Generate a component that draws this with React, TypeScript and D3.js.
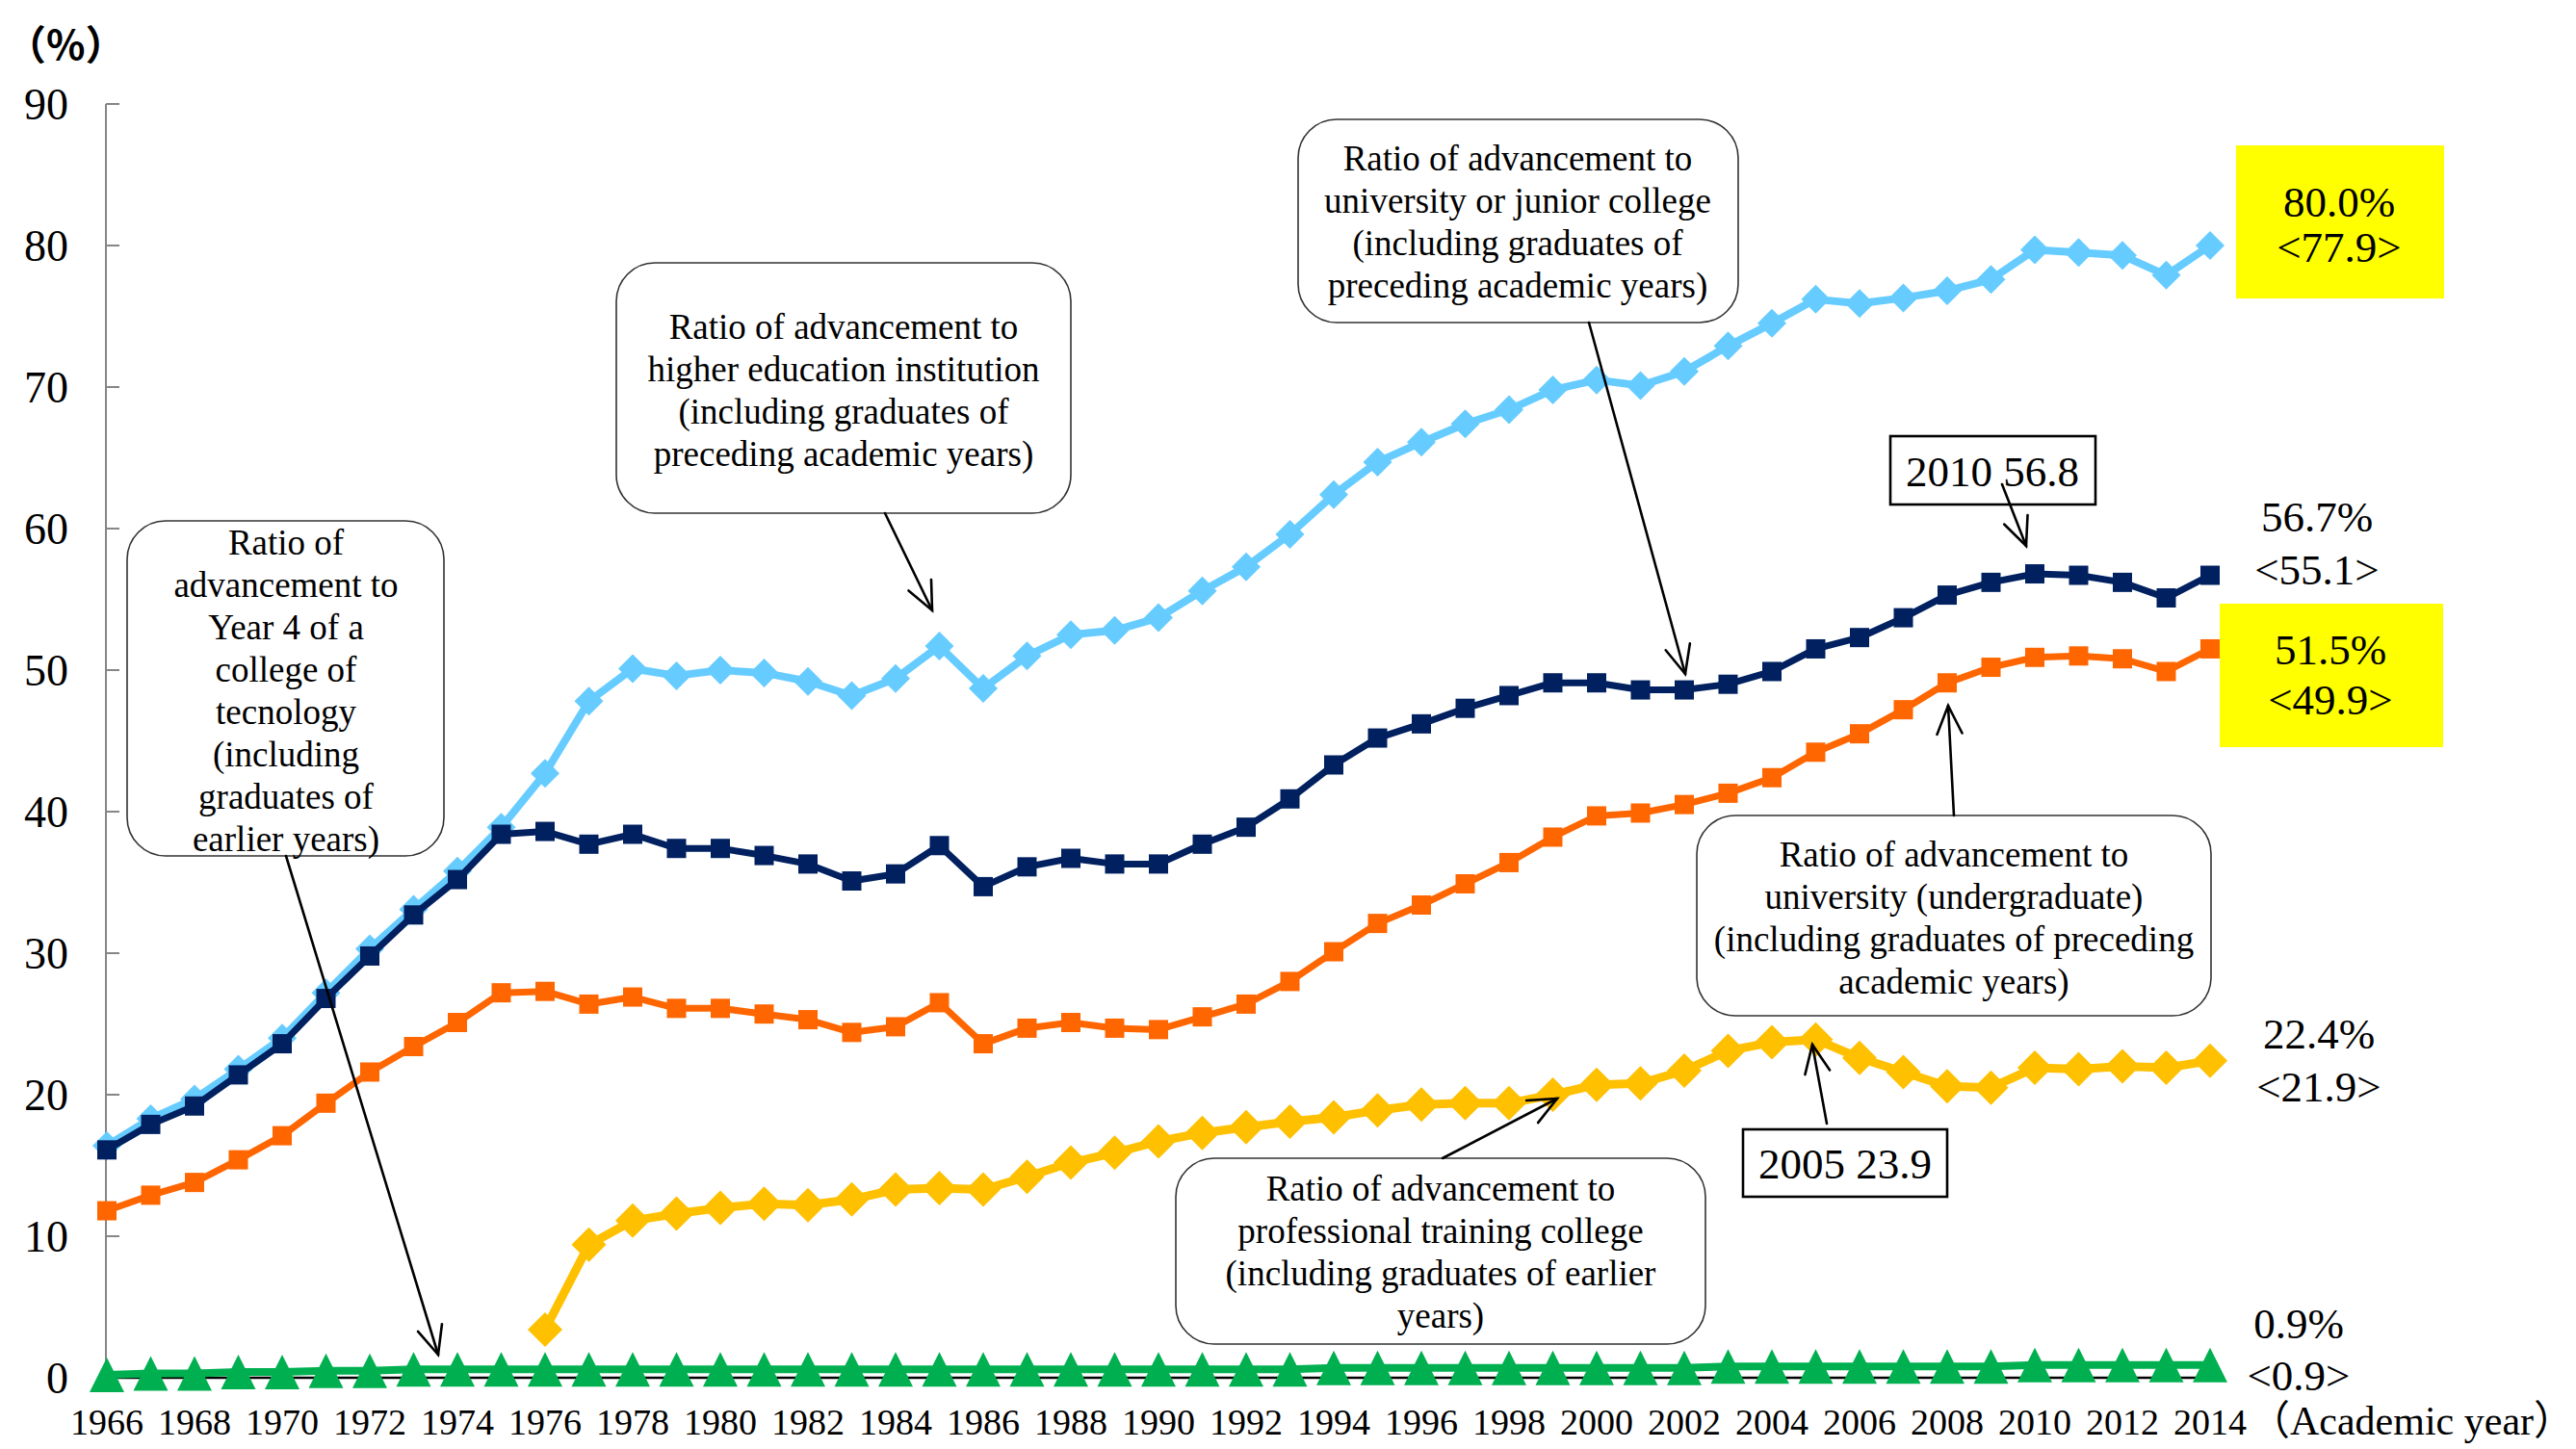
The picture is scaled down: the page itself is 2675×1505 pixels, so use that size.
import React from "react";
import * as d3 from "d3";

const years: number[] = d3.range(1966, 2015);
const yTicks = [0, 10, 20, 30, 40, 50, 60, 70, 80, 90];

// Higher education institution (light blue)
const higherEd = [
  16.4, 18.3, 19.7, 21.8, 24.0, 27.2, 30.3, 33.1, 35.8, 38.9,
  42.7, 47.8, 50.1, 49.6, 50.0, 49.8, 49.2, 48.2, 49.4, 51.7,
  48.7, 51.0, 52.5, 52.8, 53.7, 55.6, 57.3, 59.6, 62.4, 64.7,
  66.1, 67.4, 68.4, 69.8, 70.5, 70.1, 71.1, 72.9, 74.5, 76.2,
  75.9, 76.3, 76.8, 77.6, 79.7, 79.5, 79.3, 77.9, 80.0,
];
// University or junior college (navy)
const univJc = [
  16.1, 17.9, 19.2, 21.4, 23.6, 26.8, 29.8, 32.7, 35.2, 38.4,
  38.6, 37.7, 38.4, 37.4, 37.4, 36.9, 36.3, 35.1, 35.6, 37.6,
  34.7, 36.1, 36.7, 36.3, 36.3, 37.7, 38.9, 40.9, 43.3, 45.2,
  46.2, 47.3, 48.2, 49.1, 49.1, 48.6, 48.6, 49.0, 49.9, 51.5,
  52.3, 53.7, 55.3, 56.2, 56.8, 56.7, 56.2, 55.1, 56.7,
];
// University (undergraduate) (orange)
const univ = [
  11.8, 12.9, 13.8, 15.4, 17.1, 19.4, 21.6, 23.4, 25.1, 27.2,
  27.3, 26.4, 26.9, 26.1, 26.1, 25.7, 25.3, 24.4, 24.8, 26.5,
  23.6, 24.7, 25.1, 24.7, 24.6, 25.5, 26.4, 28.0, 30.1, 32.1,
  33.4, 34.9, 36.4, 38.2, 39.7, 39.9, 40.5, 41.3, 42.4, 44.2,
  45.5, 47.2, 49.1, 50.2, 50.9, 51.0, 50.8, 49.9, 51.5,
];
// Professional training college (gold), from 1976
const senshuYears: number[] = d3.range(1976, 2015);
const senshu = [
  3.4, 9.4, 11.1, 11.6, 12.0, 12.3, 12.2, 12.6, 13.3, 13.4,
  13.3, 14.2, 15.2, 15.9, 16.7, 17.3, 17.7, 18.1, 18.4, 18.9,
  19.3, 19.4, 19.4, 20.0, 20.7, 20.8, 21.7, 23.1, 23.7, 23.9,
  22.6, 21.6, 20.6, 20.5, 21.9, 21.8, 22.0, 21.9, 22.4,
];
// Year 4 of a college of technology (green)
const kosen = [
  0.2, 0.3, 0.3, 0.4, 0.4, 0.5, 0.5, 0.6, 0.6, 0.6,
  0.6, 0.6, 0.6, 0.6, 0.6, 0.6, 0.6, 0.6, 0.6, 0.6,
  0.6, 0.6, 0.6, 0.6, 0.6, 0.6, 0.6, 0.6, 0.7, 0.7,
  0.7, 0.7, 0.7, 0.7, 0.7, 0.7, 0.7, 0.8, 0.8, 0.8,
  0.8, 0.8, 0.8, 0.8, 0.9, 0.9, 0.9, 0.9, 0.9,
];

const W = 2675;
const H = 1505;
const serif = "'Liberation Serif', 'Times New Roman', 'Noto Sans CJK JP', serif";

const x = d3.scalePoint<number>().domain(years).range([111, 2295]);
const y = d3.scaleLinear().domain([0, 90]).range([1431, 108]);

type Marker = "square" | "diamond" | "triangle";

function markerPath(kind: Marker, s: number): string {
  const h = s / 2;
  if (kind === "square") return `M${-h},${-h}H${h}V${h}H${-h}Z`;
  if (kind === "diamond") return `M0,${-h}L${h},0L0,${h}L${-h},0Z`;
  return `M0,${-h}L${h},${h}L${-h},${h}Z`;
}

function Series({ xs, vals, color, width, marker, msize }: {
  xs: number[]; vals: number[]; color: string; width: number; marker: Marker; msize: number;
}) {
  const pts: [number, number][] = xs.map((yr, i) => [x(yr) as number, y(vals[i])]);
  const line = d3.line<[number, number]>()(pts) || "";
  const mp = markerPath(marker, msize);
  return (
    <g>
      <path d={line} fill="none" stroke={color} strokeWidth={width} strokeLinejoin="round" />
      {pts.map((p, i) => (
        <path key={i} d={mp} transform={`translate(${p[0]},${p[1]})`} fill={color} />
      ))}
    </g>
  );
}

function Arrow({ x1, y1, x2, y2 }: { x1: number; y1: number; x2: number; y2: number }) {
  const ang = Math.atan2(y2 - y1, x2 - x1);
  const len = 32;
  const spread = 0.42;
  const a1 = ang + Math.PI - spread;
  const a2 = ang + Math.PI + spread;
  const p1 = [x2 + len * Math.cos(a1), y2 + len * Math.sin(a1)];
  const p2 = [x2 + len * Math.cos(a2), y2 + len * Math.sin(a2)];
  return (
    <g stroke="#000" strokeWidth={2.6} fill="none" strokeLinecap="round">
      <line x1={x1} y1={y1} x2={x2} y2={y2} />
      <path d={`M${p1[0]},${p1[1]}L${x2},${y2}L${p2[0]},${p2[1]}`} strokeLinejoin="miter" />
    </g>
  );
}

function Callout({ x0, y0, x1, y1, cx, lines, baseline0, step = 44, fs = 37 }: {
  x0: number; y0: number; x1: number; y1: number; cx: number; lines: string[]; baseline0: number; step?: number; fs?: number;
}) {
  return (
    <g>
      <rect x={x0} y={y0} width={x1 - x0} height={y1 - y0} rx={40} ry={40}
        fill="#fff" stroke="#333" strokeWidth={1.6} />
      {lines.map((t, i) => (
        <text key={i} x={cx} y={baseline0 + i * step} textAnchor="middle"
          fontFamily={serif} fontSize={fs} fill="#000">{t}</text>
      ))}
    </g>
  );
}

function RightLabel({ cx, b1, b2, t1, t2 }: { cx: number; b1: number; b2: number; t1: string; t2: string }) {
  return (
    <g fontFamily={serif} fontSize={45} fill="#000" textAnchor="middle">
      <text x={cx} y={b1}>{t1}</text>
      <text x={cx} y={b2}>{t2}</text>
    </g>
  );
}

export default function App() {
  return (
    <svg width={W} height={H} viewBox={`0 0 ${W} ${H}`}
      style={{ position: "absolute", left: 0, top: 0, background: "#fff" }}>
      <rect x={0} y={0} width={W} height={H} fill="#fff" />

      {/* y axis */}
      <line x1={110} y1={y(90)} x2={110} y2={y(0)} stroke="#868686" strokeWidth={2} />
      {yTicks.map((t) => (
        <g key={t}>
          <line x1={110} x2={124} y1={y(t)} y2={y(t)} stroke="#868686" strokeWidth={2} />
          <text x={71} y={y(t) + 16} textAnchor="end" fontFamily={serif} fontSize={46} fill="#000">{t}</text>
        </g>
      ))}
      <text x={6} y={62} fontFamily="'Noto Sans CJK JP', sans-serif" fontSize={42} fontWeight="bold" fill="#000">（%）</text>

      {/* x axis */}
      <line x1={110} x2={2300} y1={y(0)} y2={y(0)} stroke="#000" strokeWidth={2.5} />
      {years.filter((yr) => (yr - 1966) % 2 === 0).map((yr) => (
        <text key={yr} x={x(yr) as number} y={1490} textAnchor="middle" fontFamily={serif} fontSize={38} fill="#000">{yr}</text>
      ))}
      <text x={2336} y={1490} fontFamily={serif} fontSize={42} fill="#000">（Academic year）</text>

      {/* series */}
      <Series xs={years} vals={univ} color="#FF6600" width={7} marker="square" msize={20} />
      <Series xs={senshuYears} vals={senshu} color="#FFC000" width={9} marker="diamond" msize={36} />
      <Series xs={years} vals={kosen} color="#00B050" width={8} marker="triangle" msize={36} />
      <Series xs={years} vals={higherEd} color="#66CCFF" width={8} marker="diamond" msize={30} />
      <Series xs={years} vals={univJc} color="#002060" width={7} marker="square" msize={20} />

      {/* callouts */}
      <Callout x0={132} y0={541} x1={461} y1={889} cx={297} baseline0={576}
        lines={["Ratio of", "advancement to", "Year 4 of a", "college of", "tecnology", "(including", "graduates of", "earlier years)"]} />
      <Arrow x1={297} y1={889} x2={455} y2={1407} />

      <Callout x0={640} y0={273} x1={1112} y1={533} cx={876} baseline0={352}
        lines={["Ratio of advancement to", "higher education institution", "(including graduates of", "preceding academic years)"]} />
      <Arrow x1={919} y1={533} x2={968} y2={634} />

      <Callout x0={1348} y0={124} x1={1805} y1={335} cx={1576} baseline0={177}
        lines={["Ratio of advancement to", "university or junior college", "(including graduates of", "preceding academic years)"]} />
      <Arrow x1={1650} y1={335} x2={1750} y2={700} />

      <Callout x0={1762} y0={847} x1={2296} y1={1055} cx={2029} baseline0={900}
        lines={["Ratio of advancement to", "university (undergraduate)", "(including graduates of preceding", "academic years)"]} />
      <Arrow x1={2029} y1={847} x2={2023} y2={733} />

      <Callout x0={1221} y0={1203} x1={1771} y1={1396} cx={1496} baseline0={1247}
        lines={["Ratio of advancement to", "professional training college", "(including graduates of earlier", "years)"]} />
      <Arrow x1={1498} y1={1203} x2={1617} y2={1141} />

      {/* value boxes */}
      <rect x={1963} y={453} width={213} height={71} fill="#fff" stroke="#000" strokeWidth={2.6} />
      <text x={2069} y={505} textAnchor="middle" fontFamily={serif} fontSize={45} fill="#000">2010 56.8</text>
      <Arrow x1={2079} y1={503} x2={2104} y2={567} />

      <rect x={1810} y={1173} width={212} height={70} fill="#fff" stroke="#000" strokeWidth={2.6} />
      <text x={1916} y={1224} textAnchor="middle" fontFamily={serif} fontSize={45} fill="#000">2005 23.9</text>
      <Arrow x1={1897} y1={1167} x2={1882} y2={1085} />

      {/* right labels */}
      <rect x={2322} y={151} width={216} height={159} fill="#FFFF00" />
      <RightLabel cx={2429} b1={225} b2={272} t1="80.0%" t2="<77.9>" />
      <RightLabel cx={2406} b1={552} b2={607} t1="56.7%" t2="<55.1>" />
      <rect x={2305} y={627} width={232} height={149} fill="#FFFF00" />
      <RightLabel cx={2420} b1={690} b2={742} t1="51.5%" t2="<49.9>" />
      <RightLabel cx={2408} b1={1089} b2={1144} t1="22.4%" t2="<21.9>" />
      <RightLabel cx={2387} b1={1390} b2={1444} t1="0.9%" t2="<0.9>" />
    </svg>
  );
}
